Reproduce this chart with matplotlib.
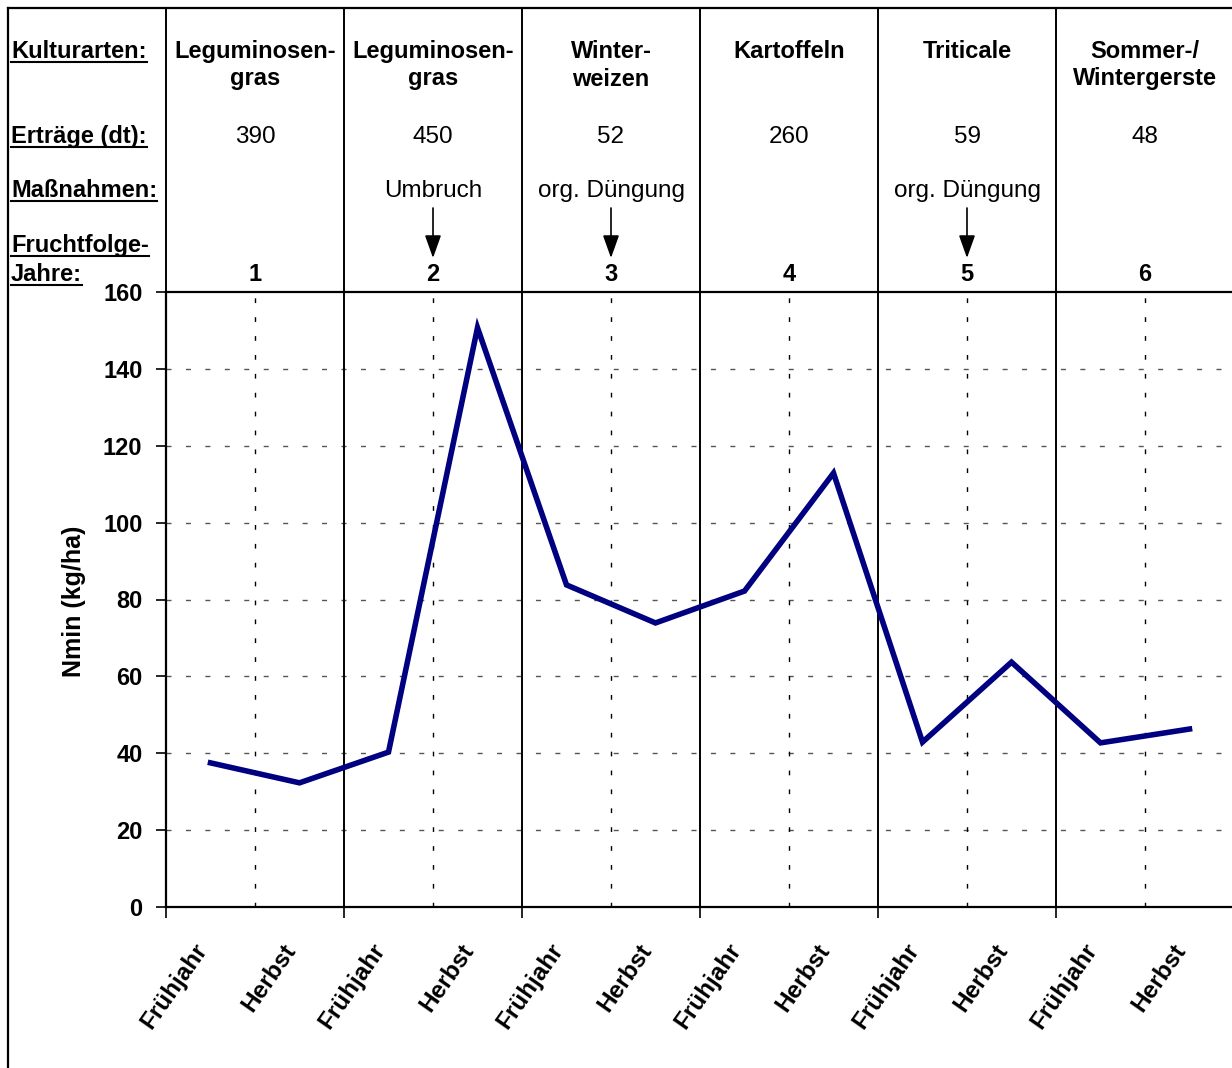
import matplotlib
matplotlib.use("Agg")
import matplotlib.pyplot as plt
from matplotlib.lines import Line2D
from matplotlib.patches import FancyArrowPatch
import matplotlib.transforms as mtransforms

plt.rcParams['font.family'] = ['Liberation Sans', 'DejaVu Sans']

# ---------------- data ----------------
seasons = ["Frühjahr", "Herbst"] * 6
nmin = [37.5, 32.3, 40.3, 150.7, 83.8, 73.9, 82.2, 112.9, 42.9, 63.7, 42.7, 46.3]
crops = ["Leguminosen-\ngras", "Leguminosen-\ngras", "Winter-\nweizen",
         "Kartoffeln", "Triticale", "Sommer-/\nWintergerste"]
yields = ["390", "450", "52", "260", "59", "48"]
measures = ["", "Umbruch", "org. Düngung", "", "org. Düngung", ""]
years = ["1", "2", "3", "4", "5", "6"]
row_labels = ["Kulturarten:", "Erträge (dt):", "Maßnahmen:", "Fruchtfolge-", "Jahre:"]
yticks = [0, 20, 40, 60, 80, 100, 120, 140, 160]

W, H = 1232, 1068
fig = plt.figure(figsize=(W / 100, H / 100), dpi=100)
fig.patch.set_facecolor("white")

def fx(x):
    return x / W

def fy(y):
    return 1 - y / H

# axes: left 166, right 1232, top 292, bottom 907 (pixels)
ax = fig.add_axes([fx(166), fy(907), fx(1232) - fx(166), fy(292) - fy(907)])
n = len(nmin)
xs = list(range(n))
ax.set_xlim(-0.5, -0.5 + (1232 - 166) / 89.0)
ax.set_ylim(0, 160)

# horizontal dashed gridlines
for v in yticks[1:-1]:
    ax.axhline(v, color="#555555", lw=1.0, ls=(0, (3.6, 10.4)), zorder=1)
# vertical dashed lines at year centres
for k in range(6):
    ax.axvline(2 * k + 0.5, color="black", lw=1.0, ls=(0, (3.4, 10.2)), zorder=1)
# solid year separators, extended up through the header
top_frac = (907 - 8) / (907 - 292)
for k in range(1, 6):
    ax.axvline(2 * k - 0.5, ymin=0, ymax=top_frac, color="black", lw=1.4,
               clip_on=False, zorder=2)
ax.axvline(-0.5, ymin=0, ymax=top_frac, color="black", lw=1.4, clip_on=False, zorder=2)

ax.plot(xs, nmin, color="#000080", lw=4.0, solid_joinstyle="miter", zorder=5)

for side in ["left", "bottom", "top"]:
    ax.spines[side].set_linewidth(1.6)
ax.spines["right"].set_visible(False)

ax.set_yticks(yticks)
ax.set_yticklabels([str(v) for v in yticks], fontsize=17, fontweight="bold")
ax.tick_params(axis="y", direction="out", length=7, width=1.2, pad=10)

ax.set_xticks([2 * k - 0.5 for k in range(6)])
ax.set_xticklabels([])
ax.tick_params(axis="x", which="major", direction="out", length=8, width=1.2)
ax.set_xticks(xs, minor=True)
ax.set_xticklabels(seasons, minor=True, fontsize=17.5, fontweight="bold",
                   rotation=55, ha="right", va="center", rotation_mode="anchor")
ax.tick_params(axis="x", which="minor", length=0, pad=28)
shift = mtransforms.ScaledTranslation(-0.08, 0, fig.dpi_scale_trans)
for lab in ax.get_xticklabels(minor=True):
    lab.set_transform(lab.get_transform() + shift)

fig.text(fx(74), fy(601), "Nmin (kg/ha)", rotation=90, ha="center", va="center",
         fontsize=18, fontweight="bold")

# ---------------- header ----------------
trans = mtransforms.blended_transform_factory(ax.transData, fig.transFigure)
row_base = [58, 143, 197, 252, 281]
left_texts = []
for lab, yb in zip(row_labels, row_base):
    t = fig.text(fx(11), fy(yb), lab, ha="left", va="baseline",
                 fontsize=17, fontweight="bold")
    left_texts.append((t, yb))

for k in range(6):
    xc = 2 * k + 0.5
    for i, line in enumerate(crops[k].split("\n")):
        ax.text(xc, fy(58 + 27.5 * i), line, transform=trans, ha="center",
                va="baseline", fontsize=17, fontweight="bold")
    ax.text(xc, fy(143), yields[k], transform=trans, ha="center", va="baseline",
            fontsize=17.5)
    if measures[k]:
        ax.text(xc, fy(197), measures[k], transform=trans, ha="center",
                va="baseline", fontsize=17.5)
        arr = FancyArrowPatch((xc, fy(208)), (xc, fy(258)), transform=trans,
                              arrowstyle="-|>,head_length=14,head_width=5",
                              mutation_scale=1, color="black", lw=1.2,
                              shrinkA=0, shrinkB=0, clip_on=False)
        ax.add_patch(arr)
    ax.text(xc, fy(281), years[k], transform=trans, ha="center", va="baseline",
            fontsize=17, fontweight="bold")

# underline the row labels
renderer = fig.canvas.get_renderer()
for t, yb in left_texts:
    bb = t.get_window_extent(renderer=renderer)
    fig.add_artist(Line2D([bb.x0 / W, bb.x1 / W], [fy(yb + 4), fy(yb + 4)],
                          color="black", lw=1.5, transform=fig.transFigure))

# outer frame lines (left and top)
fig.add_artist(Line2D([fx(8), fx(8)], [fy(8), fy(1068)], color="black", lw=1.6,
                      transform=fig.transFigure))
fig.add_artist(Line2D([fx(8), fx(1232)], [fy(8), fy(8)], color="black", lw=1.6,
                      transform=fig.transFigure))

fig.savefig("out.png", dpi=100, facecolor="white")
